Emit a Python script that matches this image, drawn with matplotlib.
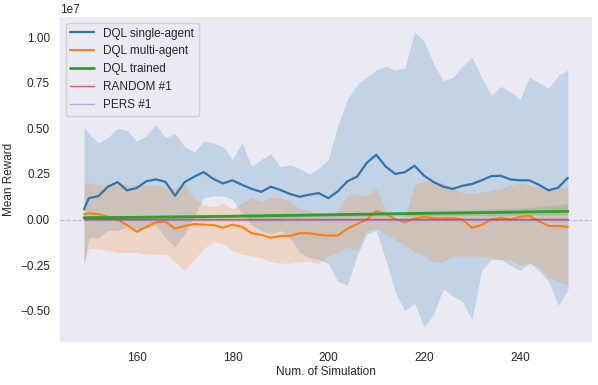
import numpy as np
import matplotlib
matplotlib.use("Agg")
import matplotlib.pyplot as plt
from matplotlib.ticker import MultipleLocator
import seaborn as sns

sns.set_style("darkgrid", {"axes.grid": False})
plt.rcParams['font.family'] = ['Liberation Sans', 'DejaVu Sans']

SCALE = 1e7

# episodes (num. of simulation)
sim = np.concatenate(([149], np.arange(150, 251, 2)))

# DQL single-agent (values in 1e7)
single_mean = [0.056, 0.117, 0.128, 0.18, 0.205, 0.16, 0.173, 0.21, 0.22, 0.207,
               0.13, 0.205, 0.235, 0.26, 0.223, 0.198, 0.215, 0.19, 0.168, 0.152,
               0.18, 0.162, 0.14, 0.125, 0.136, 0.145, 0.117, 0.155, 0.21, 0.235,
               0.31, 0.355, 0.29, 0.25, 0.26, 0.295, 0.24, 0.205, 0.18, 0.168,
               0.185, 0.195, 0.215, 0.238, 0.24, 0.22, 0.215, 0.215, 0.19, 0.16,
               0.175, 0.229]
single_hi = [0.505, 0.47, 0.42, 0.45, 0.50, 0.49, 0.43, 0.46, 0.52, 0.45,
             0.47, 0.40, 0.37, 0.43, 0.42, 0.40, 0.33, 0.42, 0.29, 0.33,
             0.36, 0.29, 0.30, 0.28, 0.25, 0.28, 0.33, 0.52, 0.66, 0.74,
             0.78, 0.82, 0.84, 0.82, 0.83, 1.03, 0.98, 0.85, 0.76, 0.78,
             0.84, 0.89, 0.78, 0.68, 0.73, 0.70, 0.66, 0.78, 0.75, 0.72,
             0.79, 0.82]
single_lo = [-0.25, -0.10, -0.10, -0.06, -0.06, -0.04, -0.05, -0.05, -0.03, -0.10,
             -0.15, -0.08, 0.02, 0.12, 0.13, 0.13, 0.11, 0.03, -0.03, -0.06,
             -0.08, -0.06, -0.10, -0.18, -0.21, -0.22, -0.24, -0.34, -0.36, -0.20,
             -0.08, -0.06, -0.22, -0.40, -0.50, -0.46, -0.59, -0.52, -0.38, -0.42,
             -0.45, -0.55, -0.28, -0.22, -0.22, -0.25, -0.28, -0.24, -0.28, -0.34,
             -0.47, -0.39]

# DQL multi-agent
multi_mean = [0.028, 0.034, 0.03, 0.015, -0.002, -0.03, -0.067, -0.04, -0.015, -0.011,
              -0.05, -0.035, -0.025, -0.028, -0.03, -0.045, -0.028, -0.04, -0.075, -0.084,
              -0.1, -0.09, -0.09, -0.075, -0.075, -0.084, -0.088, -0.088, -0.05, -0.025,
              0.0, 0.045, 0.03, 0.002, -0.015, 0.005, 0.015, 0.008, 0.006, 0.008,
              0.0, -0.045, -0.03, 0.0, 0.01, 0.0, 0.015, 0.02, -0.01, -0.035,
              -0.036, -0.04]
multi_hi = [0.20, 0.20, 0.19, 0.19, 0.20, 0.19, 0.19, 0.19, 0.19, 0.18,
            0.17, 0.19, 0.12, 0.08, 0.07, 0.09, 0.06, 0.09, 0.12, 0.10,
            0.12, 0.12, 0.10, 0.06, 0.05, 0.03, 0.02, 0.05, 0.13, 0.14,
            0.13, 0.17, 0.05, 0.0, 0.02, 0.19, 0.21, 0.21, 0.20, 0.17,
            0.15, 0.14, 0.15, 0.16, 0.17, 0.19, 0.20, 0.19, 0.18, 0.17,
            0.18, 0.18]
multi_lo = [-0.24, -0.16, -0.16, -0.17, -0.18, -0.18, -0.18, -0.19, -0.19, -0.19,
            -0.23, -0.28, -0.22, -0.16, -0.12, -0.13, -0.17, -0.19, -0.20, -0.21,
            -0.23, -0.24, -0.24, -0.23, -0.23, -0.24, -0.20, -0.18, -0.15, -0.17,
            -0.06, -0.05, -0.08, -0.11, -0.14, -0.18, -0.20, -0.235, -0.23, -0.20,
            -0.20, -0.20, -0.20, -0.21, -0.22, -0.22, -0.25, -0.24, -0.26, -0.32,
            -0.34, -0.36]

# DQL trained
trained_sim = [149, 160, 170, 180, 190, 200, 210, 220, 230, 240, 250]
trained_mean = [0.010, 0.012, 0.015, 0.018, 0.022, 0.026, 0.030, 0.034, 0.037, 0.041, 0.045]
trained_hi = [0.020, 0.022, 0.025, 0.028, 0.033, 0.037, 0.042, 0.047, 0.053, 0.062, 0.085]
trained_lo = [0.000, 0.002, 0.005, 0.008, 0.011, 0.015, 0.018, 0.021, 0.022, 0.024, 0.025]

# baselines
base_sim = [149, 250]
random_mean = [0.002, 0.002]
pers_mean = [0.0, 0.0]

fig, ax = plt.subplots(figsize=(5.98, 3.85), dpi=100)
fig.subplots_adjust(left=0.100, right=0.990, bottom=0.112, top=0.956)

s = SCALE
ax.fill_between(sim, np.array(single_lo) * s, np.array(single_hi) * s, color="tab:blue", alpha=0.2, lw=0)
ax.plot(sim, np.array(single_mean) * s, color="#3274ae", lw=1.6, label="DQL single-agent")
ax.fill_between(sim, np.array(multi_lo) * s, np.array(multi_hi) * s, color="tab:orange", alpha=0.2, lw=0)
ax.plot(sim, np.array(multi_mean) * s, color="tab:orange", lw=1.5, label="DQL multi-agent")
ax.fill_between(trained_sim, np.array(trained_lo) * s, np.array(trained_hi) * s, color="tab:green", alpha=0.2, lw=0)
ax.plot(trained_sim, np.array(trained_mean) * s, color="tab:green", lw=2.0, label="DQL trained")
ax.plot(base_sim, np.array(random_mean) * s, color="tab:red", lw=1, alpha=0.7, label="RANDOM #1")
ax.plot(base_sim, np.array(pers_mean) * s, color="tab:purple", lw=1, alpha=0.5, label="PERS #1")
ax.axhline(0, color="tab:purple", lw=0.8, ls="--", alpha=0.4)

ax.set_xticks([160, 180, 200, 220, 240])
ax.yaxis.set_major_locator(MultipleLocator(0.25e7))
ax.set_xlabel("Num. of Simulation", fontsize=8.5, labelpad=2)
ax.set_ylabel("Mean Reward", fontsize=8.5)
ax.tick_params(labelsize=8.5)
ax.yaxis.get_offset_text().set_fontsize(8.5)
for sp in ax.spines.values():
    sp.set_visible(False)

ax.legend(loc="upper left", fontsize=8.5)
fig.savefig("out.png", dpi=100)
